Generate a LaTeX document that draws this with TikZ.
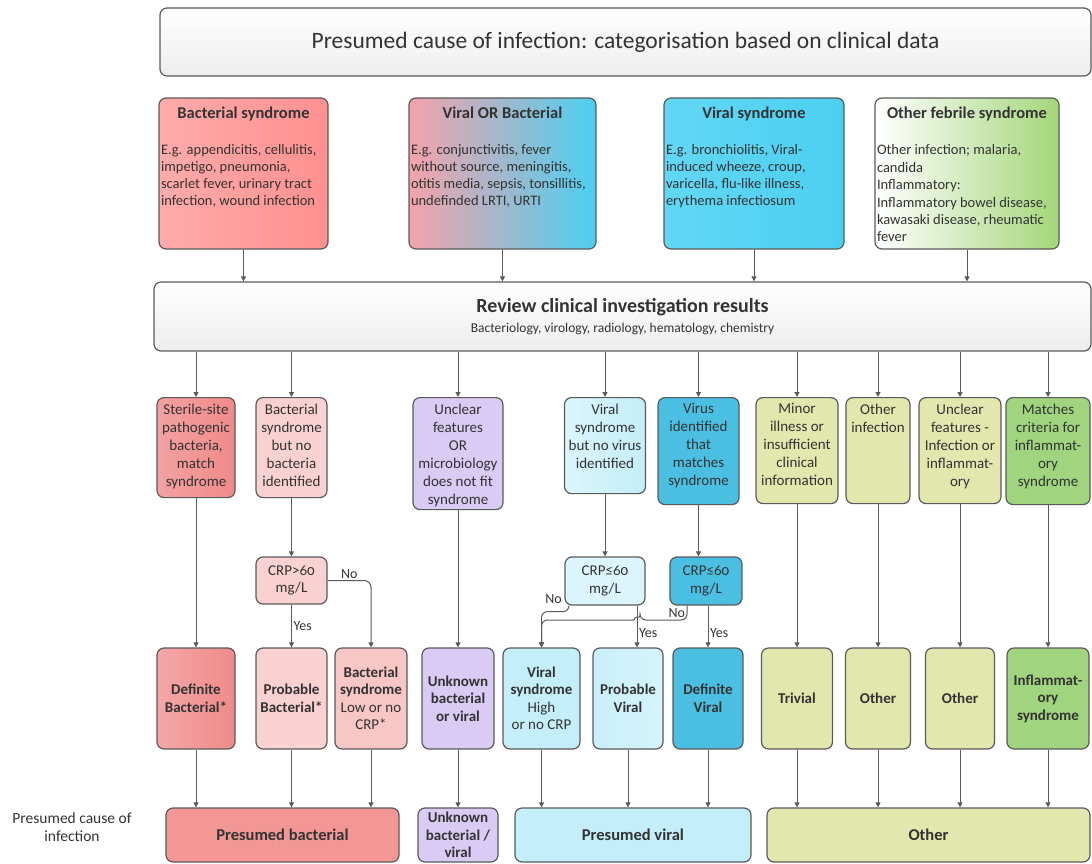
\documentclass[tikz,border=0pt]{standalone}
\usepackage{fontspec}
\setmainfont{Carlito}[Numbers=OldStyle]
\usetikzlibrary{arrows.meta}

\definecolor{linec}{HTML}{5A5A5A}
\definecolor{txt}{HTML}{333333}
\definecolor{redA}{HTML}{FFABAB}
\definecolor{redB}{HTML}{FF9090}
\definecolor{redC}{HTML}{F08A8A}
\definecolor{pinkL}{HTML}{FAD1D1}
\definecolor{mixA}{HTML}{F5A2AA}
\definecolor{cyanA}{HTML}{62D7F5}
\definecolor{cyanB}{HTML}{4CCFF1}
\definecolor{cyanL}{HTML}{C4EEFA}
\definecolor{cyanD}{HTML}{4BBFE1}
\definecolor{purp}{HTML}{D9CBF4}
\definecolor{khaki}{HTML}{E2E7AE}
\definecolor{greenB}{HTML}{A4D67A}
\definecolor{greenM}{HTML}{A0D47E}

\tikzset{
  box/.style={draw=linec, line width=1.2pt, rounded corners=7pt, inner sep=0pt, align=center, text=txt, font=\fontsize{15}{17.5}\selectfont},
  link/.style={draw=linec, line width=1pt},
  lbl/.style={text=txt, font=\fontsize{14}{16}\selectfont, inner sep=1.5pt},
}

\begin{document}
\begin{tikzpicture}[x=1pt, y=-1pt, >={Triangle[length=5pt,width=5pt]}]
\useasboundingbox (0,0) rectangle (1092,864);

% heading
\node[box, top color=white, bottom color=gray!14, minimum width=931pt, minimum height=68pt, font=\fontsize{23.5}{26}\selectfont] (title) at (625.5,42) {Presumed cause of infection: categorisation based on clinical data};

% syndromes
\node[box, left color=redA, right color=redB, minimum width=169pt, minimum height=151pt] (bact) at (243.5,173.5) {\parbox[c][133pt][t]{165pt}{\centering{\fontsize{16.5}{19}\bfseries Bacterial syndrome\par}\vspace{19pt}\raggedright\fontsize{14.5}{17}\selectfont E.g. appendicitis, cellulitis,\\impetigo, pneumonia,\\scarlet fever, urinary tract\\infection, wound infection}};
\node[box, left color=mixA, right color=cyanB, minimum width=187pt, minimum height=151pt] (vob) at (502.5,173.5) {\parbox[c][133pt][t]{183pt}{\centering{\fontsize{16.5}{19}\bfseries Viral OR Bacterial\par}\vspace{19pt}\raggedright\fontsize{14.5}{17}\selectfont E.g. conjunctivitis, fever\\without source, meningitis,\\otitis media, sepsis, tonsillitis,\\undefinded LRTI, URTI}};
\node[box, left color=cyanA, right color=cyanB, minimum width=180pt, minimum height=151pt] (vir) at (754,173.5) {\parbox[c][133pt][t]{176pt}{\centering{\fontsize{16.5}{19}\bfseries Viral syndrome\par}\vspace{19pt}\raggedright\fontsize{14.5}{17}\selectfont E.g. bronchiolitis, Viral-\\induced wheeze, croup,\\varicella, flu-like illness,\\erythema infectiosum}};
\node[box, left color=white, right color=greenB, minimum width=184pt, minimum height=151pt] (oth) at (967,173.5) {\parbox[c][133pt][t]{180pt}{\centering{\fontsize{16.5}{19}\bfseries Other febrile syndrome\par}\vspace{19pt}\raggedright\fontsize{14.5}{17.4}\selectfont Other infection; malaria,\\candida\\Inflammatory:\\Inflammatory bowel disease,\\kawasaki disease, rheumatic\\fever}};

% review
\node[box, top color=white, bottom color=gray!14, minimum width=937pt, minimum height=69pt] (review) at (622.5,316.5) {{\fontsize{20}{22}\bfseries Review clinical investigation results}\\[2pt]{\fontsize{13.5}{15}\selectfont Bacteriology, virology, radiology, hematology, chemistry}};

% findings
\node[box, left color=redC!80, right color=redC, minimum width=78pt, minimum height=100pt, anchor=north] (sterile) at (196,397) {\parbox[c][88pt][t]{76pt}{\centering\fontsize{15}{18}\selectfont Sterile-site\\pathogenic\\bacteria,\\match\\syndrome}};
\node[box, fill=pinkL, minimum width=71pt, minimum height=100pt, anchor=north] (bactno) at (291.5,397) {\parbox[c][88pt][t]{69pt}{\centering\fontsize{15}{18}\selectfont Bacterial\\syndrome\\but no\\bacteria\\identified}};
\node[box, fill=purp, minimum width=90pt, minimum height=112pt, anchor=north] (unclear) at (458,397) {\parbox[c][100pt][t]{88pt}{\centering\fontsize{15}{18}\selectfont Unclear\\features\\OR\\microbiology\\does not fit\\syndrome}};
\node[box, left color=cyanL!60, right color=cyanL, minimum width=81pt, minimum height=96pt, anchor=north] (viralno) at (605,397) {\parbox[c][84pt][t]{79pt}{\centering\fontsize{15}{18}\selectfont Viral\\syndrome\\but no virus\\identified}};
\node[box, fill=cyanD, minimum width=81pt, minimum height=107pt, anchor=north] (virusid) at (698.5,397) {\parbox[c][95pt][t]{79pt}{\centering\fontsize{15}{18}\selectfont Virus\\identified\\that\\matches\\syndrome}};
\node[box, fill=khaki, minimum width=82pt, minimum height=106pt, anchor=north] (minor) at (797,397) {\parbox[c][94pt][t]{80pt}{\centering\fontsize{15}{18}\selectfont Minor\\illness or\\insufficient\\clinical\\information}};
\node[box, fill=khaki, minimum width=64pt, minimum height=106pt, anchor=north] (othinf) at (878,397) {\parbox[c][94pt][t]{62pt}{\centering\fontsize{15}{18}\selectfont Other\\infection}};
\node[box, fill=khaki, minimum width=82pt, minimum height=106pt, anchor=north] (unclinf) at (960,397) {\parbox[c][94pt][t]{80pt}{\centering\fontsize{15}{18}\selectfont Unclear\\features -\\Infection or\\inflammat-\\ory}};
\node[box, fill=greenM, minimum width=84pt, minimum height=107pt, anchor=north] (matches) at (1048,397) {\parbox[c][95pt][t]{82pt}{\centering\fontsize{15}{18}\selectfont Matches\\criteria for\\inflammat-\\ory syndrome}};

% crp checks
\node[box, fill=pinkL, minimum width=71pt, minimum height=47pt] (crpbact) at (291.5,580.5) {CRP>60\\mg/L};
\node[box, fill=cyanL!60, minimum width=80pt, minimum height=48pt] (crplight) at (605,581) {CRP≤60\\mg/L};
\node[box, fill=cyanD, minimum width=72pt, minimum height=48pt] (crpdark) at (706,581) {CRP≤60\\mg/L};

% outcomes
\node[box, left color=redC!75, right color=redC, minimum width=78pt, minimum height=101pt, font=\fontsize{15}{17.5}\bfseries] (defb) at (196,698.5) {Definite\\Bacterial*};
\node[box, fill=pinkL, minimum width=71pt, minimum height=101pt, font=\fontsize{15}{17.5}\bfseries] (probb) at (291.5,698.5) {Probable\\Bacterial*};
\node[box, fill=pinkL!85!redC, minimum width=72pt, minimum height=101pt] (bactlow) at (371,698.5) {\textbf{Bacterial}\\\textbf{syndrome}\\Low or no\\CRP*};
\node[box, fill=purp, minimum width=72pt, minimum height=101pt, font=\fontsize{15}{17.5}\bfseries] (unkbv) at (458,698.5) {Unknown\\bacterial\\or viral};
\node[box, fill=cyanL, minimum width=77pt, minimum height=101pt] (viralhi) at (541.5,698.5) {\textbf{Viral}\\\textbf{syndrome}\\High\\or no CRP};
\node[box, left color=cyanL!90, right color=cyanL!70, minimum width=70pt, minimum height=101pt, font=\fontsize{15}{17.5}\bfseries] (probv) at (628,698.5) {Probable\\Viral};
\node[box, fill=cyanD, minimum width=70pt, minimum height=101pt, font=\fontsize{15}{17.5}\bfseries] (defv) at (708,698.5) {Definite\\Viral};
\node[box, fill=khaki, minimum width=71pt, minimum height=101pt, font=\fontsize{15}{17.5}\bfseries] (trivial) at (797,698.5) {Trivial};
\node[box, fill=khaki, minimum width=65pt, minimum height=101pt, font=\fontsize{15}{17.5}\bfseries] (other1) at (878,698.5) {Other};
\node[box, fill=khaki, minimum width=69pt, minimum height=101pt, font=\fontsize{15}{17.5}\bfseries] (other2) at (960,698.5) {Other};
\node[box, fill=greenM, minimum width=82pt, minimum height=101pt, font=\fontsize{15}{17.5}\bfseries] (inflam) at (1048,698.5) {Inflammat-\\ory\\syndrome};

% presumed cause
\node[lbl, align=center, font=\fontsize{15.5}{17.5}\selectfont] (cause) at (72,827) {Presumed cause of\\infection};
\node[box, fill=redC!90, minimum width=233pt, minimum height=54pt, font=\fontsize{16.5}{19}\bfseries] (presb) at (282.5,835) {Presumed bacterial};
\node[box, fill=purp, minimum width=80pt, minimum height=54pt, font=\fontsize{15}{17.5}\bfseries] (unkfinal) at (458,835) {Unknown\\bacterial /\\viral};
\node[box, fill=cyanL, minimum width=236pt, minimum height=54pt, font=\fontsize{16.5}{19}\bfseries] (presv) at (633,835) {Presumed viral};
\node[box, fill=khaki, minimum width=323pt, minimum height=54pt, font=\fontsize{16.5}{19}\bfseries] (other) at (928.5,835) {Other};

% connectors
\draw[->, link] (bact) -- (bact |- review.north); \draw[->, link] (vob) -- (vob |- review.north); \draw[->, link] (vir) -- (vir |- review.north); \draw[->, link] (oth) -- (oth |- review.north);
\draw[->, link] (review.south -| sterile) -- (sterile); \draw[->, link] (review.south -| bactno) -- (bactno); \draw[->, link] (review.south -| unclear) -- (unclear);
\draw[->, link] (review.south -| viralno) -- (viralno); \draw[->, link] (review.south -| virusid) -- (virusid); \draw[->, link] (review.south -| minor) -- (minor);
\draw[->, link] (review.south -| othinf) -- (othinf); \draw[->, link] (review.south -| unclinf) -- (unclinf); \draw[->, link] (review.south -| matches) -- (matches);

\draw[->, link] (sterile) -- (defb); \draw[->, link] (bactno) -- (crpbact); \draw[->, link] (unclear) -- (unkbv); \draw[->, link] (viralno) -- (crplight);
\draw[->, link] (virusid) -- (virusid |- crpdark.north); \draw[->, link] (minor) -- (trivial); \draw[->, link] (othinf) -- (other1); \draw[->, link] (unclinf) -- (other2); \draw[->, link] (matches) -- (inflam);

\draw[->, link] (crpbact) -- node[lbl, right] {Yes} (probb);
\draw[->, link, rounded corners=7pt] (crpbact.east) -| node[lbl, pos=.25, above] {No} (bactlow.north);
\draw[->, link] ([xshift=32pt]crplight.south) -- node[lbl, right, pos=.65] {Yes} ([xshift=32pt]crplight.south |- probv.north);
\draw[->, link, rounded corners=6pt] ([xshift=-36pt]crplight.south) -- ++(0,6) -| (viralhi.north);
\node[lbl, anchor=south east] (nolight) at ([xshift=-1pt]crplight.south west) {No};
\draw[->, link] (crpdark.south -| defv.north) -- node[lbl, right, pos=.65] {Yes} (defv.north);
\coordinate (hopr) at (640,620); \coordinate (hopl) at (634,620);
\draw[->, link] ([xshift=-19pt]crpdark.south) [rounded corners=6pt] |- node[lbl, left, pos=.25] {No} (hopr) [sharp corners] arc[start angle=0, end angle=180, radius=3pt] [rounded corners=6pt] -| (viralhi.north);

\draw[->, link] (defb) -- (defb |- presb.north); \draw[->, link] (probb) -- (probb |- presb.north); \draw[->, link] (bactlow) -- (bactlow |- presb.north);
\draw[->, link] (unkbv) -- (unkfinal); \draw[->, link] (viralhi) -- (viralhi |- presv.north); \draw[->, link] (probv) -- (probv |- presv.north); \draw[->, link] (defv) -- (defv |- presv.north);
\draw[->, link] (trivial) -- (trivial |- other.north); \draw[->, link] (other1) -- (other1 |- other.north); \draw[->, link] (other2) -- (other2 |- other.north); \draw[->, link] (inflam) -- (inflam |- other.north);
\end{tikzpicture}
\end{document}
